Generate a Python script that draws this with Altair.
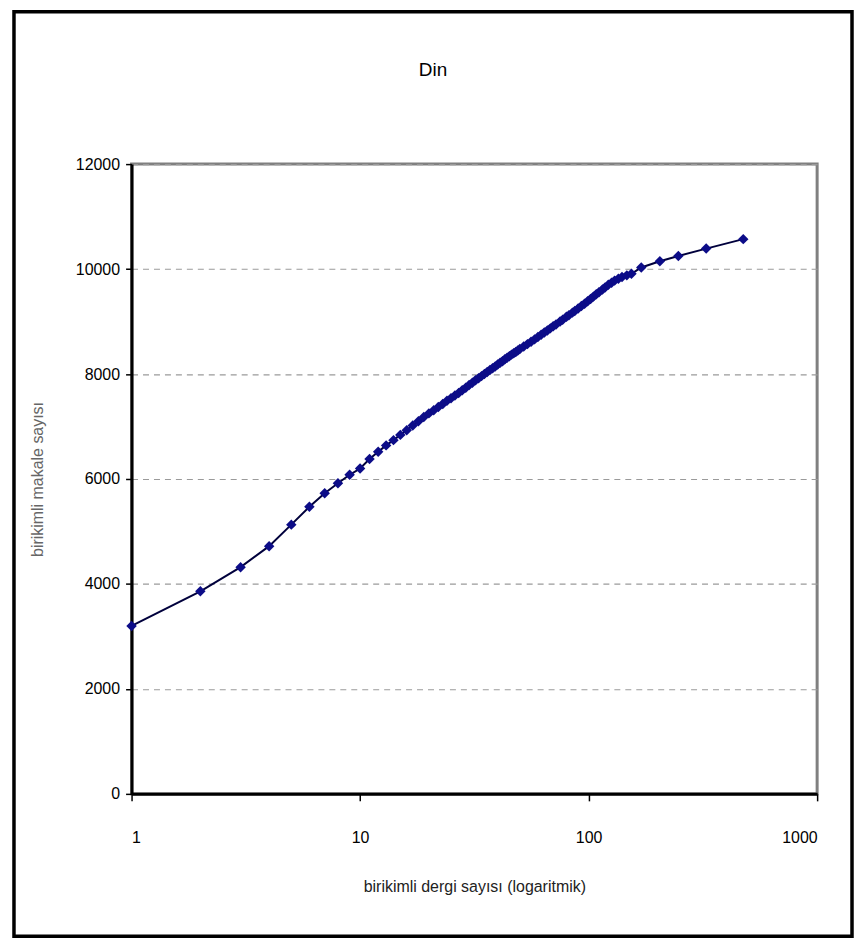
import altair as alt
import pandas as pd

# cumulative number of journals (log axis) and cumulative number of articles
journals = [1, 2, 3, 4, 5, 6, 7, 8, 9, 10,
            11, 12, 13, 14, 15, 16, 17, 18, 19, 20,
            21, 22, 23, 24, 25, 26, 27, 28, 29, 30,
            31, 32, 33, 34, 35, 36, 37, 38, 39, 40,
            41, 42, 43, 44, 45, 46, 47, 48, 49, 50,
            52, 54, 56, 58, 60, 62, 64, 66, 68, 70,
            72, 75, 77, 80, 82, 85, 87, 90, 93, 96,
            99, 102, 105, 108, 111, 115, 118, 122, 126, 130,
            135, 140, 147, 154, 170, 205, 247, 327, 475]
articles = [3200, 3860, 4320, 4720, 5130, 5470, 5730, 5920, 6080, 6200,
            6380, 6520, 6640, 6740, 6840, 6930, 7020, 7100, 7180, 7250,
            7310, 7370, 7430, 7490, 7540, 7590, 7640, 7690, 7740, 7790,
            7835, 7880, 7920, 7960, 8000, 8040, 8075, 8110, 8145, 8180,
            8215, 8245, 8280, 8310, 8340, 8370, 8395, 8420, 8450, 8475,
            8525, 8570, 8615, 8660, 8705, 8750, 8790, 8830, 8870, 8910,
            8945, 9000, 9035, 9090, 9120, 9170, 9200, 9250, 9295, 9340,
            9385, 9430, 9475, 9520, 9560, 9610, 9650, 9700, 9740, 9780,
            9815, 9850, 9880, 9910, 10030, 10150, 10250, 10390, 10570]

x_ticks = [1, 10, 100, 1000]
y_ticks = [0, 2000, 4000, 6000, 8000, 10000, 12000]

title_text = "Din"
x_title = "birikimli dergi sayısı (logaritmik)"
y_title = "birikimli makale sayısı"

df = pd.DataFrame({"dergi": journals, "makale": articles})

FONT = "Liberation Sans, Arial, sans-serif"
W, H = 688, 632

x_enc = alt.X("dergi:Q",
              scale=alt.Scale(type="log", domain=[1, 1000], nice=False),
              axis=alt.Axis(values=x_ticks, format="d", title=x_title,
                            grid=False, domainColor="black", domainWidth=3,
                            tickColor="black", tickSize=7, tickWidth=1.5,
                            labelPadding=29, labelFontSize=16, labelFont=FONT,
                            labelColor="black", titleFont=FONT, titleFontSize=16,
                            titleFontWeight="normal", titleColor="#222",
                            titlePadding=33))
y_enc = alt.Y("makale:Q",
              scale=alt.Scale(domain=[0, 12000], nice=False),
              axis=alt.Axis(values=y_ticks, format="d", title=y_title,
                            grid=True, gridColor="#9a9a9a", gridDash=[6, 5],
                            gridWidth=1.2,
                            domainColor="black", domainWidth=3,
                            tickColor="black", tickSize=6, tickWidth=1.5,
                            labelPadding=6, labelFontSize=16, labelFont=FONT,
                            labelColor="black", titleFont=FONT, titleFontSize=16,
                            titleFontWeight="normal", titleColor="#666",
                            titlePadding=30))

line = alt.Chart(df).mark_line(color="#00003c", strokeWidth=2).encode(x=x_enc, y=y_enc)
pts = alt.Chart(df).mark_point(shape="diamond", filled=True, size=110,
                               color="#0c0c88", opacity=1).encode(x="dergi:Q", y="makale:Q")

frame = alt.Chart(pd.DataFrame({"k": [0]})).mark_rect(
    filled=False, stroke="black", strokeWidth=3.5, fill=None
).encode(x=alt.value(-118), x2=alt.value(W + 35),
         y=alt.value(-153), y2=alt.value(H + 143))

chart = alt.layer(frame, line, pts).properties(
    width=W, height=H,
    padding={"left": 4, "top": 0, "right": 0, "bottom": 0},
    title=alt.TitleParams(title_text, font=FONT, fontSize=19, fontWeight="normal",
                          color="black", anchor="middle", frame="bounds",
                          offset=-70),
).configure(background="white").configure_view(stroke="#808080", strokeWidth=3)

chart.save("out.html", embed_options={"renderer": "svg", "actions": False})
